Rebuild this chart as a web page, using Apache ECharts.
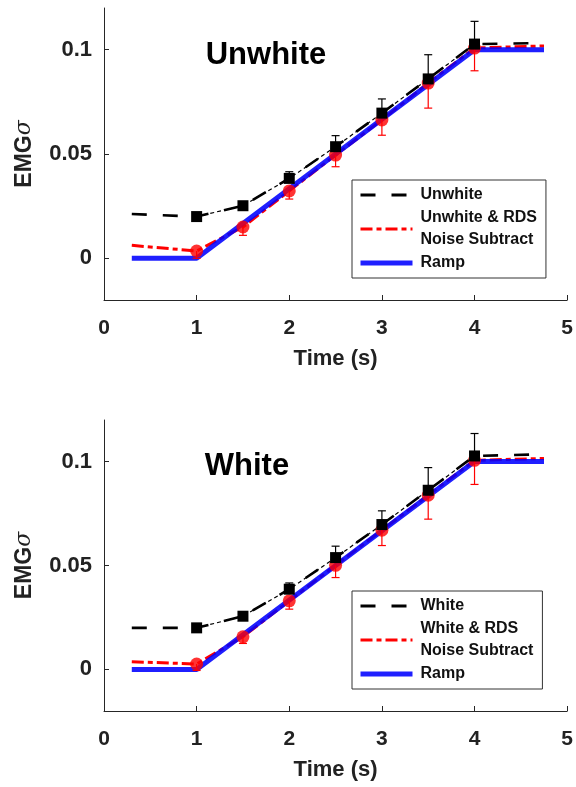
<!DOCTYPE html>
<html>
<head>
<meta charset="utf-8">
<script src="https://cdn.jsdelivr.net/npm/echarts@6/dist/echarts.min.js"></script>
<style>
  html, body { margin: 0; padding: 0; background: #fff; }
  #main { width: 576px; height: 787px; }
</style>
</head>
<body>
<div id="main"></div>
<script>
// time points: line ends at 0.3 s and 4.75 s, markers every 0.5 s
var lineTime = [0.3, 1, 1.5, 2, 2.5, 3, 3.5, 4, 4.75];
var markTime = [1, 1.5, 2, 2.5, 3, 3.5, 4];
var rampTime = [0.3, 1, 4, 4.75];
var rampVals = [0, 0, 0.1, 0.1];
var yTicks = [0, 0.05, 0.1];

// top panel (Unwhite)
var unwhiteLine = [0.0212, 0.0200, 0.0252, 0.0383, 0.0535, 0.0696, 0.0860, 0.1027, 0.1032];
var unwhiteErrHi = [0.0215, 0.0268, 0.0415, 0.0588, 0.0764, 0.0976, 0.1136];
var unwhiteRdsLine = [0.0062, 0.0035, 0.0150, 0.0323, 0.0495, 0.0663, 0.0840, 0.1008, 0.1018];
var unwhiteRdsErrLo = [0.0000, 0.0110, 0.0284, 0.0439, 0.0590, 0.0720, 0.0899];

// bottom panel (White)
var whiteLine = [0.0200, 0.0200, 0.0256, 0.0386, 0.0538, 0.0697, 0.0862, 0.1027, 0.1035];
var whiteErrHi = [0.0212, 0.0270, 0.0416, 0.0593, 0.0763, 0.0971, 0.1135];
var whiteRdsLine = [0.0037, 0.0026, 0.0157, 0.0330, 0.0501, 0.0670, 0.0838, 0.1006, 0.1015];
var whiteRdsErrLo = [-0.0005, 0.0125, 0.0290, 0.0442, 0.0596, 0.0723, 0.0890];

var FONT = 'Arial, "Liberation Sans", sans-serif';
var AX = '#262626';

var blackDash = { color: '#000', width: 3, type: [15, 16] };
var redDash = { color: '#ff0000', width: 3, type: [12, 4, 5, 4] };
var blueLine = { color: '#0000ff', width: 5 };

function pairs(xs, ys) {
    return xs.map(function (x, i) { return [x, ys[i]]; });
}

function errBars(mean, bound) {
    return markTime.map(function (t, i) { return [t, mean[i + 1], bound[i]]; });
}

function errSeries(idx, data, color) {
    return {
        type: 'custom',
        xAxisIndex: idx, yAxisIndex: idx,
        data: data,
        encode: { x: 0, y: [1, 2] },
        z: 4,
        renderItem: function (params, api) {
            var p0 = api.coord([api.value(0), api.value(1)]);
            var p1 = api.coord([api.value(0), api.value(2)]);
            var st = { stroke: color, lineWidth: 1.2 };
            return {
                type: 'group',
                children: [
                    { type: 'line', shape: { x1: p0[0], y1: p0[1], x2: p1[0], y2: p1[1] }, style: st },
                    { type: 'line', shape: { x1: p1[0] - 4, y1: p1[1], x2: p1[0] + 4, y2: p1[1] }, style: st }
                ]
            };
        }
    };
}

function panelSeries(idx, name, rdsName, blackLine, blackHi, redLine, redLo) {
    return [
        {
            name: rdsName, type: 'line', xAxisIndex: idx, yAxisIndex: idx,
            data: pairs(lineTime, redLine), symbol: 'none', z: 2,
            lineStyle: redDash, itemStyle: { color: '#ff0000' }
        },
        {
            name: 'Ramp', type: 'line', xAxisIndex: idx, yAxisIndex: idx,
            data: pairs(rampTime, rampVals), symbol: 'none', z: 3,
            lineStyle: { color: '#0000ff', width: 5, opacity: 0.88 },
            itemStyle: { color: '#0000ff' }
        },
        errSeries(idx, errBars(redLine, redLo), '#ff0000'),
        {
            type: 'scatter', xAxisIndex: idx, yAxisIndex: idx,
            data: pairs(markTime, redLine.slice(1, 8)), symbol: 'circle', symbolSize: 13, z: 5,
            itemStyle: { color: '#ff0000' }
        },
        {
            name: name, type: 'line', xAxisIndex: idx, yAxisIndex: idx,
            data: pairs(lineTime, blackLine), symbol: 'none', z: 6,
            lineStyle: { color: '#000', width: 2.6, type: [15, 16] },
            itemStyle: { color: '#000' }
        },
        {
            type: 'line', xAxisIndex: idx, yAxisIndex: idx,
            data: pairs(markTime, blackLine.slice(1, 8)), symbol: 'rect', symbolSize: 11, z: 7,
            lineStyle: { color: '#000', width: 1.2, type: [4, 3] },
            itemStyle: { color: '#000' }
        },
        errSeries(idx, errBars(blackLine, blackHi), '#000')
    ];
}

function xAx(idx) {
    return {
        type: 'value', gridIndex: idx, min: 0, max: 5, interval: 1,
        name: 'Time (s)', nameLocation: 'middle', nameGap: 48,
        nameTextStyle: { fontFamily: FONT, fontWeight: 'bold', fontSize: 22, color: '#222' },
        axisLine: { onZero: false, lineStyle: { color: AX, width: 1 } },
        axisTick: { inside: true, length: 5, lineStyle: { color: AX } },
        axisLabel: { margin: 18, fontFamily: FONT, fontWeight: 'bold', fontSize: 21, color: '#222' },
        splitLine: { show: false }
    };
}

function yAx(idx) {
    return {
        type: 'value', gridIndex: idx, min: -0.02, max: 0.12,
        name: 'EMG{s|σ}', nameLocation: 'middle', nameGap: 68,
        nameTextStyle: {
            fontFamily: FONT, fontWeight: 'bold', fontSize: 23, color: '#222',
            rich: { s: { fontFamily: 'DejaVu Serif, serif', fontStyle: 'italic', fontWeight: 'normal', fontSize: 22, color: '#222' } }
        },
        axisLine: { show: true, onZero: false, lineStyle: { color: AX, width: 1 } },
        axisTick: { show: true, inside: true, length: 5, lineStyle: { color: AX }, customValues: yTicks },
        axisLabel: {
            margin: 12, fontFamily: FONT, fontWeight: 'bold', fontSize: 22, color: '#222',
            customValues: yTicks,
            formatter: function (v) { return String(+v.toFixed(2)); }
        },
        splitLine: { show: false }
    };
}

function legendOf(top, names) {
    return {
        orient: 'vertical', left: 352, top: top,
        data: [
            { name: names[0], lineStyle: blackDash },
            { name: names[1], lineStyle: redDash },
            { name: names[2], lineStyle: blueLine }
        ],
        backgroundColor: '#fff',
        borderColor: '#333', borderWidth: 1, borderRadius: 0,
        padding: [4, 9, 4, 6], itemGap: 1,
        itemWidth: 52, itemHeight: 14,
        itemStyle: { opacity: 0 },
        textStyle: { fontFamily: FONT, fontWeight: 'bold', fontSize: 16, color: '#111', lineHeight: 22, padding: [0, 0, 0, 3] }
    };
}

var myChart = echarts.init(document.getElementById('main'));

var option = {
    backgroundColor: '#fff',
    animation: false,
    title: [
        { text: 'Unwhite', left: 261, top: 35, textAlign: 'center',
          textStyle: { fontFamily: FONT, fontWeight: 'bold', fontSize: 31, color: '#000' } },
        { text: 'White', left: 242, top: 446, textAlign: 'center',
          textStyle: { fontFamily: FONT, fontWeight: 'bold', fontSize: 31, color: '#000' } }
    ],
    legend: [
        legendOf(180, ['Unwhite', 'Unwhite & RDS\nNoise Subtract', 'Ramp']),
        legendOf(591, ['White', 'White & RDS\nNoise Subtract', 'Ramp'])
    ],
    grid: [
        { left: 104, right: 6, top: 8, height: 292 },
        { left: 104, right: 6, top: 420, height: 291 }
    ],
    xAxis: [xAx(0), xAx(1)],
    yAxis: [yAx(0), yAx(1)],
    series: panelSeries(0, 'Unwhite', 'Unwhite & RDS\nNoise Subtract', unwhiteLine, unwhiteErrHi, unwhiteRdsLine, unwhiteRdsErrLo)
        .concat(panelSeries(1, 'White', 'White & RDS\nNoise Subtract', whiteLine, whiteErrHi, whiteRdsLine, whiteRdsErrLo))
};

myChart.setOption(option);
</script>
</body>
</html>
